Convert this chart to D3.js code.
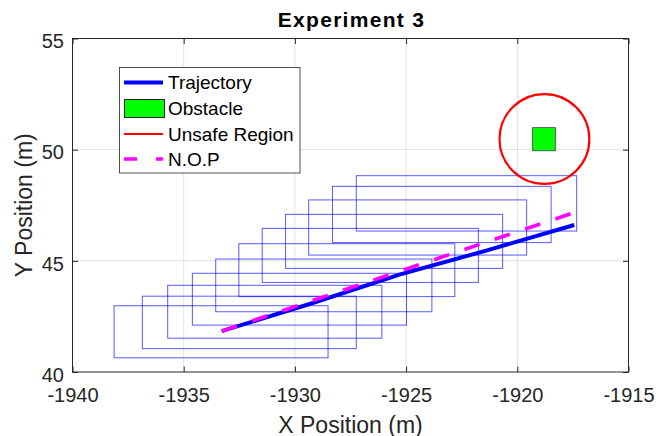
<!DOCTYPE html>
<html>
<head>
<meta charset="utf-8">
<script src="https://cdn.jsdelivr.net/npm/d3@7"></script>
<style>
  body { margin: 0; background: #fff; }
  svg { font-family: "Liberation Sans", Arial, sans-serif; }
</style>
</head>
<body>
<svg width="667" height="436"></svg>
<script>
// Reachable sets (box corners), in metres
const setX0 = [-1938.13, -1936.86, -1935.72, -1934.61, -1933.56, -1932.52, -1931.47, -1930.42, -1929.38, -1928.31, -1927.24];
const setX1 = [-1928.51, -1927.24, -1926.09, -1924.98, -1923.84, -1922.81, -1921.75, -1920.66, -1919.58, -1918.48, -1917.33];
const setY0 = [40.64, 41.05, 41.52, 42.11, 42.71, 43.39, 44.03, 44.66, 45.26, 45.82, 46.34];
const setY1 = [42.98, 43.41, 43.90, 44.44, 45.08, 45.77, 46.46, 47.09, 47.74, 48.35, 48.83];

// Trajectory and nominal path
const trajX = [-1933.29, -1929.3, -1925.3, -1921.4, -1917.44];
const trajY = [41.84, 43.07, 44.38, 45.46, 46.61];
const nopX = [-1933.29, -1917.44];
const nopY = [41.84, 47.17];

// Obstacle and unsafe region
const obsX = [-1919.31, -1918.29];
const obsY = [49.95, 50.99];
const unsafeCenter = [-1918.78, 50.48];
const unsafeRadius = 2.02;

const xTicks = [-1940, -1935, -1930, -1925, -1920, -1915];
const yTicks = [40, 45, 50, 55];
const legendLabels = ["Trajectory", "Obstacle", "Unsafe Region", "N.O.P"];

const svg = d3.select("svg");
const pl = 72.5, pr = 628.5, pt = 38.5, pb = 372;

const x = d3.scaleLinear().domain([-1940, -1915]).range([pl, pr]);
const y = d3.scaleLinear().domain([40, 55]).range([pb, pt]);

svg.append("defs").append("clipPath").attr("id", "clip")
   .append("rect").attr("x", pl).attr("y", pt)
   .attr("width", pr - pl).attr("height", pb - pt);

// grid
const grid = svg.append("g").attr("stroke", "#e2e2e2").attr("stroke-width", 1);
grid.selectAll(".gx").data(xTicks.slice(1, -1)).join("line")
    .attr("x1", d => x(d)).attr("x2", d => x(d)).attr("y1", pt).attr("y2", pb);
grid.selectAll(".gy").data(yTicks.slice(1, -1)).join("line")
    .attr("y1", d => y(d)).attr("y2", d => y(d)).attr("x1", pl).attr("x2", pr);

const plot = svg.append("g").attr("clip-path", "url(#clip)");

// reachable sets
plot.selectAll("rect.set").data(setX0).join("rect")
    .attr("class", "set")
    .attr("x", (d, i) => x(setX0[i]))
    .attr("y", (d, i) => y(setY1[i]))
    .attr("width", (d, i) => x(setX1[i]) - x(setX0[i]))
    .attr("height", (d, i) => y(setY0[i]) - y(setY1[i]))
    .attr("fill", "none")
    .attr("stroke", "#0000ff")
    .attr("stroke-opacity", 0.65)
    .attr("stroke-width", 1);

const line = d3.line().x(d => x(d[0])).y(d => y(d[1]));

plot.append("path")
    .datum(d3.zip(trajX, trajY))
    .attr("d", line)
    .attr("fill", "none")
    .attr("stroke", "#0000ff")
    .attr("stroke-width", 4);

plot.append("path")
    .datum(d3.zip(nopX, nopY))
    .attr("d", line)
    .attr("fill", "none")
    .attr("stroke", "#ff00ff")
    .attr("stroke-width", 3.6)
    .attr("stroke-dasharray", "16,16");

plot.append("rect")
    .attr("x", x(obsX[0])).attr("y", y(obsY[1]))
    .attr("width", x(obsX[1]) - x(obsX[0]))
    .attr("height", y(obsY[0]) - y(obsY[1]))
    .attr("fill", "#00ff00")
    .attr("stroke", "#404040")
    .attr("stroke-width", 0.8);

plot.append("circle")
    .attr("cx", x(unsafeCenter[0])).attr("cy", y(unsafeCenter[1]))
    .attr("r", x(unsafeCenter[0] + unsafeRadius) - x(unsafeCenter[0]))
    .attr("fill", "none")
    .attr("stroke", "#ff0000")
    .attr("stroke-width", 2.2);

// axes: ticks pointing inward on all four sides
const axisColor = "#262626";
const fmt = d => String(d);
function styleAxis(g) {
  g.select(".domain").remove();
  g.selectAll(".tick line").attr("stroke", axisColor);
  g.selectAll(".tick text").attr("fill", axisColor).attr("font-size", 20);
}
svg.append("g").attr("transform", `translate(0,${pb})`)
   .call(d3.axisBottom(x).tickValues(xTicks).tickFormat(fmt).tickSize(-5.5).tickPadding(16))
   .call(styleAxis);
svg.append("g").attr("transform", `translate(0,${pt})`)
   .call(d3.axisTop(x).tickValues(xTicks).tickSize(-5.5).tickFormat(""))
   .call(styleAxis);
svg.append("g").attr("transform", `translate(${pl},0)`)
   .call(d3.axisLeft(y).tickValues(yTicks).tickFormat(fmt).tickSize(-5.5).tickPadding(8.5))
   .call(styleAxis)
   .call(g => g.selectAll(".tick text").attr("dy", "0.46em"));
svg.append("g").attr("transform", `translate(${pr},0)`)
   .call(d3.axisRight(y).tickValues(yTicks).tickSize(-5.5).tickFormat(""))
   .call(styleAxis);

svg.append("rect")
   .attr("x", pl).attr("y", pt)
   .attr("width", pr - pl).attr("height", pb - pt)
   .attr("fill", "none").attr("stroke", axisColor).attr("stroke-width", 1);

// labels
svg.append("text").attr("x", 351.5).attr("y", 26.5)
   .attr("text-anchor", "middle").attr("font-weight", "bold")
   .attr("font-size", 21).attr("letter-spacing", 1.3).attr("fill", "#000")
   .text("Experiment 3");
svg.append("text").attr("x", 350.5).attr("y", 432.5)
   .attr("text-anchor", "middle").attr("font-size", 23).attr("fill", axisColor)
   .text("X Position (m)");
svg.append("text")
   .attr("transform", `translate(31.5,${(pt + pb) / 2}) rotate(-90)`)
   .attr("text-anchor", "middle").attr("font-size", 23).attr("fill", axisColor)
   .text("Y Position (m)");

// legend
const lg = svg.append("g");
lg.append("rect").attr("x", 119.5).attr("y", 67.5).attr("width", 180.5).attr("height", 105.5)
  .attr("fill", "#fff").attr("stroke", axisColor).attr("stroke-width", 0.8);
const rowY = [82.5, 108.5, 134, 159];
lg.append("line").attr("x1", 124).attr("x2", 163).attr("y1", rowY[0]).attr("y2", rowY[0])
  .attr("stroke", "#0000ff").attr("stroke-width", 4);
lg.append("rect").attr("x", 124.5).attr("y", 99.5).attr("width", 40).attr("height", 18)
  .attr("fill", "#00ff00").attr("stroke", "#262626").attr("stroke-width", 1);
lg.append("line").attr("x1", 124).attr("x2", 163).attr("y1", rowY[2]).attr("y2", rowY[2])
  .attr("stroke", "#ff0000").attr("stroke-width", 2);
lg.append("line").attr("x1", 124).attr("x2", 163).attr("y1", rowY[3]).attr("y2", rowY[3])
  .attr("stroke", "#ff00ff").attr("stroke-width", 3.6).attr("stroke-dasharray", "13,19");
lg.selectAll("text.lab").data(legendLabels).join("text")
  .attr("class", "lab")
  .attr("x", 168).attr("y", (d, i) => rowY[i] + 6.5)
  .attr("font-size", 19).attr("fill", "#000")
  .text(d => d);
</script>
</body>
</html>
